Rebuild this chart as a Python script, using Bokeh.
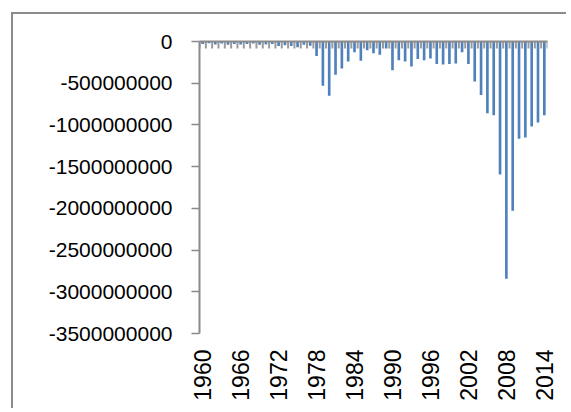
import math
from bokeh.plotting import figure
from bokeh.models import ColumnDataSource, Range1d, FixedTicker, LinearAxis
from bokeh.embed import file_html
from bokeh.resources import INLINE

years = list(range(1960, 2015))
values = [
    -30e6, -20e6, -35e6, -25e6, -40e6, -30e6, -35e6, -30e6, -25e6, -40e6,
    -35e6, -30e6, -55e6, -45e6, -55e6, -70e6, -40e6, -50e6, -175e6, -530e6,
    -650e6, -400e6, -325e6, -240e6, -130e6, -230e6, -105e6, -140e6, -160e6, -85e6,
    -345e6, -225e6, -240e6, -300e6, -210e6, -225e6, -205e6, -270e6, -275e6, -270e6,
    -265e6, -130e6, -270e6, -480e6, -640e6, -860e6, -885e6, -1595e6, -2845e6, -2030e6,
    -1165e6, -1150e6, -1020e6, -970e6, -885e6,
]
x_tick_years = [1960, 1966, 1972, 1978, 1984, 1990, 1996, 2002, 2008, 2014]
y_ticks = [0, -500000000, -1000000000, -1500000000, -2000000000,
           -2500000000, -3000000000, -3500000000]
y_tick_labels = ["0", "-500000000", "-1000000000", "-1500000000", "-2000000000",
                 "-2500000000", "-3000000000", "-3500000000"]

AXIS_GRAY = "#8a8a8a"
BAR_BLUE = "#4f81bd"
FONT = "Liberation Sans"

FRAME_H = 292  # pixel height of plot area

src = ColumnDataSource(dict(year=years, value=values))

p = figure(width=555, height=396, output_backend="svg", toolbar_location=None,
           x_range=Range1d(years[0] - 0.5, years[-1] + 0.5),
           y_range=Range1d(y_ticks[-1], y_ticks[0]),
           x_axis_location=None, y_axis_location=None,
           min_border_left=186, min_border_top=27, min_border_right=21,
           min_border_bottom=77)
p.grid.visible = False
p.outline_line_color = None
p.background_fill_color = "white"
p.border_fill_color = "white"
p.styles = {"border-left": "2px solid #8c8c8c", "border-top": "2px solid #8c8c8c",
            "margin-left": "11px", "margin-top": "12px"}

p.vbar(x="year", top="value", bottom=0, width=0.42, source=src,
       fill_color=BAR_BLUE, line_color=None)

# tick marks between categories, hanging down from the zero line (7 px)
span = y_ticks[0] - y_ticks[-1]
tick_len = span * 7 / FRAME_H
bounds = [y - 0.5 for y in years] + [years[-1] + 0.5]
p.segment(x0=bounds, x1=bounds, y0=[0] * len(bounds), y1=[-tick_len] * len(bounds),
          line_color="#9a9a9a", line_width=2)

# left value axis
yax = LinearAxis(ticker=FixedTicker(ticks=y_ticks))
yax.major_label_overrides = {t: s for t, s in zip(y_ticks, y_tick_labels)}
yax.axis_line_color = AXIS_GRAY
yax.axis_line_width = 2
yax.major_tick_line_color = AXIS_GRAY
yax.major_tick_line_width = 1.5
yax.major_tick_out = 8
yax.major_tick_in = 0
yax.minor_tick_line_color = None
yax.major_label_standoff = 19
yax.major_label_text_font = FONT
yax.major_label_text_font_size = "21px"
yax.major_label_text_color = "black"
p.add_layout(yax, "left")

# zero line (category axis) at the top of the frame
tax = LinearAxis(ticker=FixedTicker(ticks=[]))
tax.axis_line_color = AXIS_GRAY
tax.axis_line_width = 2
tax.major_tick_line_color = None
tax.minor_tick_line_color = None
p.add_layout(tax, "above")

# bottom labels (low position)
bax = LinearAxis(ticker=FixedTicker(ticks=x_tick_years))
bax.axis_line_color = None
bax.major_tick_line_color = None
bax.minor_tick_line_color = None
bax.major_label_orientation = math.pi / 2
bax.major_label_standoff = 10
bax.major_label_text_font = FONT
bax.major_label_text_font_size = "23px"
bax.major_label_text_color = "black"
p.add_layout(bax, "below")

open("out.html", "w").write(file_html(p, INLINE))
